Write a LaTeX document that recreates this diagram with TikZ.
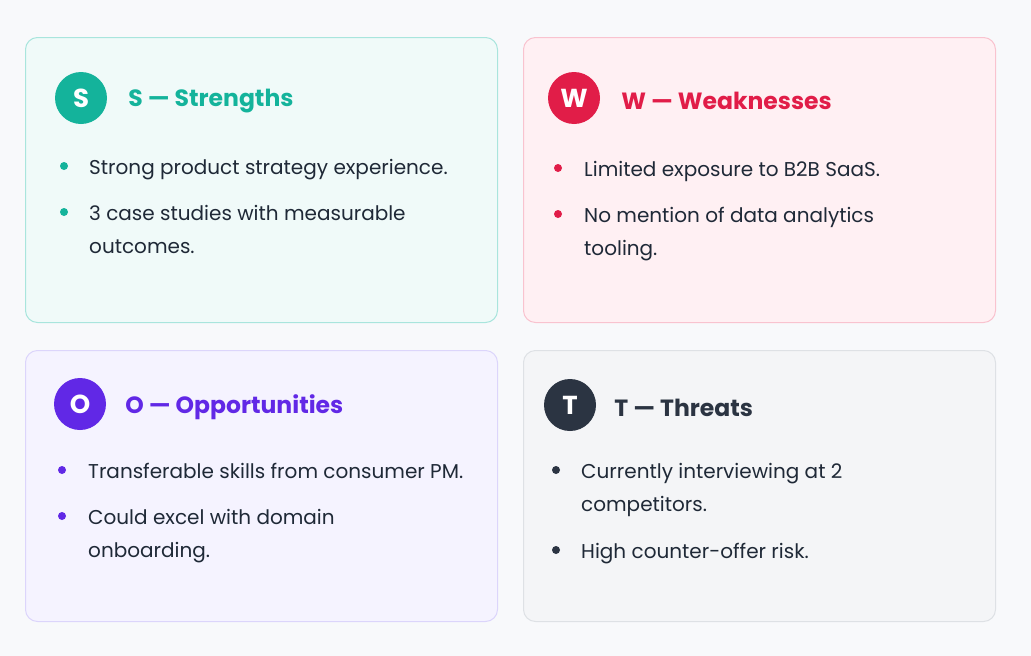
\documentclass[tikz,border=0pt]{standalone}
\usepackage{fontspec}
\setmainfont{Poppins}
\usetikzlibrary{positioning}

\definecolor{pagebg}{HTML}{F8F9FB}
\definecolor{ink}{HTML}{1F2937}
% one colour triple per quadrant: main, fill, line
\definecolor{smain}{HTML}{14B39B}
\definecolor{sfill}{HTML}{F0FAF9}
\definecolor{sline}{HTML}{A9E5DD}
\definecolor{wmain}{HTML}{E11D48}
\definecolor{wfill}{HTML}{FFF0F3}
\definecolor{wline}{HTML}{F9C3CF}
\definecolor{omain}{HTML}{6128E6}
\definecolor{ofill}{HTML}{F5F3FF}
\definecolor{oline}{HTML}{DCD5FB}
\definecolor{tmain}{HTML}{2B3442}
\definecolor{tfill}{HTML}{F4F5F7}
\definecolor{tline}{HTML}{DEE1E5}

\tikzset{
  card/.style={rounded corners=12pt, line width=1pt, inner sep=0pt,
    minimum width=472pt, anchor=north west},
  badge/.style={circle, minimum size=52pt, inner sep=0pt, text=white,
    font=\fontsize{26}{30}\selectfont\bfseries},
  heading/.style={anchor=west, inner sep=0pt, yshift=-3pt,
    font=\fontsize{23.5}{28}\selectfont\bfseries},
  dot/.style={circle, minimum size=8pt, inner sep=0pt},
  % base of a multi-line item is its last line
  item/.style={anchor=base west, inner sep=0pt, align=left, text=ink,
    font=\fontsize{20}{33}\selectfont},
}

\begin{document}
\begin{tikzpicture}[x=1pt, y=-1pt]

    % page
    \fill[pagebg] (0,0) rectangle (1031,656);
    \useasboundingbox (0,0) rectangle (1031,656);

    % Strengths
    \node[card, draw=sline, fill=sfill, minimum height=285pt] (sbox) at (25,37) {};
    \node[badge, fill=smain] (sbadge) at (81,98) {S};
    \node[heading, text=smain, right=21pt of sbadge] (stitle) {S — Strengths};
    \node[dot, fill=smain] (sdot1) at (64,166) {};
    \node[dot, fill=smain] (sdot2) at (64,212) {};
    \node[item] (sitem1) at (89,174) {Strong product strategy experience.};
    \node[item] (sitem2) at (89,253) {3 case studies with measurable\\outcomes.};

    % Weaknesses
    \node[card, draw=wline, fill=wfill, minimum height=285pt] (wbox) at (523,37) {};
    \node[badge, fill=wmain] (wbadge) at (574,98) {W};
    \node[heading, text=wmain, right=21pt of wbadge] (wtitle) {W — Weaknesses};
    \node[dot, fill=wmain] (wdot1) at (558,168) {};
    \node[dot, fill=wmain] (wdot2) at (558,214) {};
    \node[item] (witem1) at (584,176) {Limited exposure to B2B SaaS.};
    \node[item] (witem2) at (584,255) {No mention of data analytics\\tooling.};

    % Opportunities
    \node[card, draw=oline, fill=ofill, minimum height=271pt] (obox) at (25,350) {};
    \node[badge, fill=omain] (obadge) at (80,404) {O};
    \node[heading, text=omain, right=19pt of obadge] (otitle) {O — Opportunities};
    \node[dot, fill=omain] (odot1) at (62,470) {};
    \node[dot, fill=omain] (odot2) at (62,516) {};
    \node[item] (oitem1) at (88,478) {Transferable skills from consumer PM.};
    \node[item] (oitem2) at (88,557) {Could excel with domain\\onboarding.};

    % Threats
    \node[card, draw=tline, fill=tfill, minimum height=271pt] (tbox) at (523,350) {};
    \node[badge, fill=tmain] (tbadge) at (570,405) {T};
    \node[heading, text=tmain, right=18pt of tbadge] (ttitle) {T — Threats};
    \node[dot, fill=tmain] (tdot1) at (556,470) {};
    \node[dot, fill=tmain] (tdot2) at (556,550) {};
    \node[item] (titem1) at (581,511) {Currently interviewing at 2\\competitors.};
    \node[item] (titem2) at (581,558) {High counter-offer risk.};

\end{tikzpicture}
\end{document}
